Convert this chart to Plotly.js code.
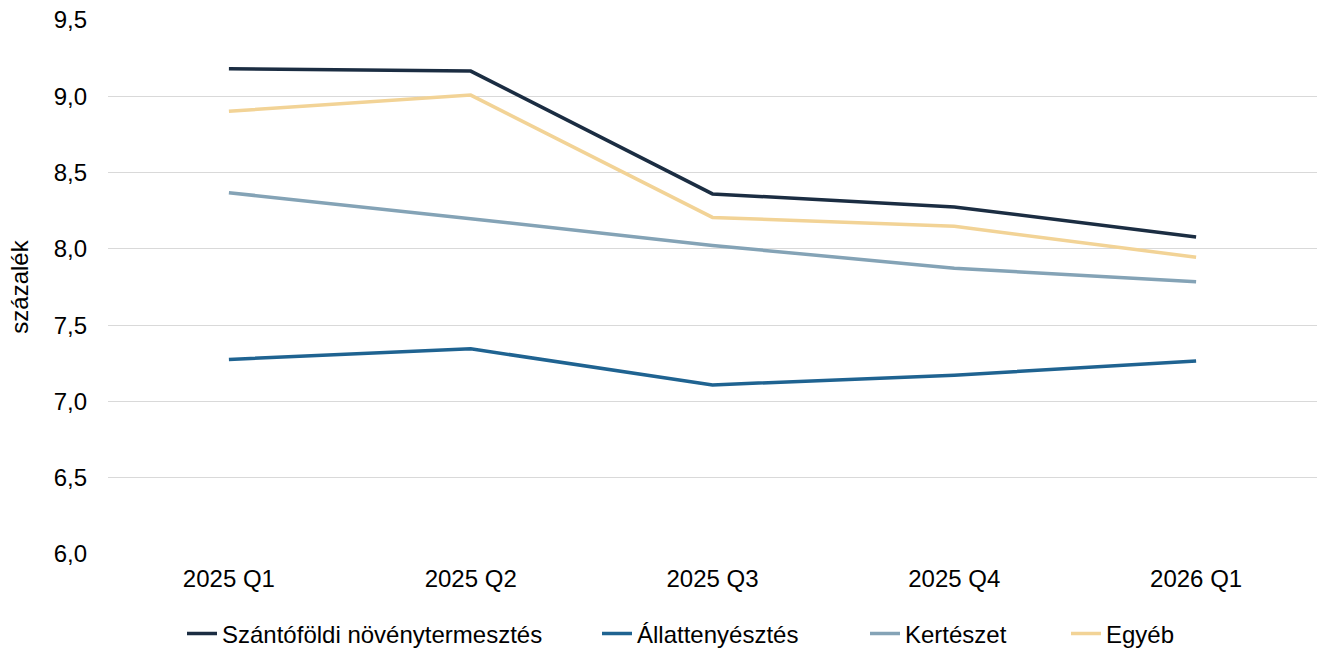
<!DOCTYPE html>
<html><head><meta charset="utf-8">
<script src="https://cdn.plot.ly/plotly-3.0.1.min.js"></script>
<style>html,body{margin:0;padding:0;background:#fff}#chart{width:1319px;height:650px}</style>
</head><body><div id="chart"></div>
<script>
const categories = ["2025 Q1", "2025 Q2", "2025 Q3", "2025 Q4", "2026 Q1"];
const szantofoldi = [9.18, 9.165, 8.36, 8.275, 8.078];
const allattenyesztes = [7.275, 7.345, 7.108, 7.172, 7.265];
const kerteszet = [8.368, 8.198, 8.022, 7.873, 7.785];
const egyeb = [8.902, 9.008, 8.206, 8.148, 7.945];
const seriesNames = ["Szántóföldi növénytermesztés", "Állattenyésztés", "Kertészet", "Egyéb"];
const colors = ["#1b2d42", "#1f6391", "#84a3b6", "#f2d396"];
const seriesData = [szantofoldi, allattenyesztes, kerteszet, egyeb];
const legendIds = ["legend", "legend2", "legend3", "legend4"];
const legendTextX = [222, 637, 905, 1106];

const traces = seriesData.map((d, i) => ({
  type: "scatter", mode: "lines", x: categories, y: d, name: seriesNames[i],
  line: {color: colors[i], width: 3.5}, legend: legendIds[i]
}));

const layout = {
  width: 1319, height: 650,
  margin: {l: 108, r: 2, t: 20, b: 96},
  paper_bgcolor: "#fff", plot_bgcolor: "#fff",
  font: {family: "Liberation Sans, Arial, sans-serif", size: 24, color: "#000"},
  xaxis: {type: "category", range: [-0.5, 4.5], showgrid: false, zeroline: false, automargin: false,
    showline: false, ticks: "", tickfont: {size: 24}, ticklabelstandoff: 8},
  yaxis: {range: [6, 9.5], dtick: 0.5, tick0: 6, tickformat: ".1f", automargin: false,
    showgrid: true, gridcolor: "#d9d9d9", gridwidth: 1, zeroline: false, showline: false,
    ticks: "", tickfont: {size: 24}, ticklabelstandoff: 20,
    title: {text: "százalék", font: {size: 24}, standoff: 18}},
  separators: ", ",
  showlegend: true
};
legendIds.forEach((id, i) => {
  layout[id] = {orientation: "h", xref: "container", yref: "container",
    x: (legendTextX[i] - 40) / 1319, xanchor: "left", y: 16 / 650, yanchor: "middle",
    font: {size: 24}, bgcolor: "rgba(0,0,0,0)"};
});
Plotly.newPlot("chart", traces, layout, {displayModeBar: false, staticPlot: true});
</script></body></html>
